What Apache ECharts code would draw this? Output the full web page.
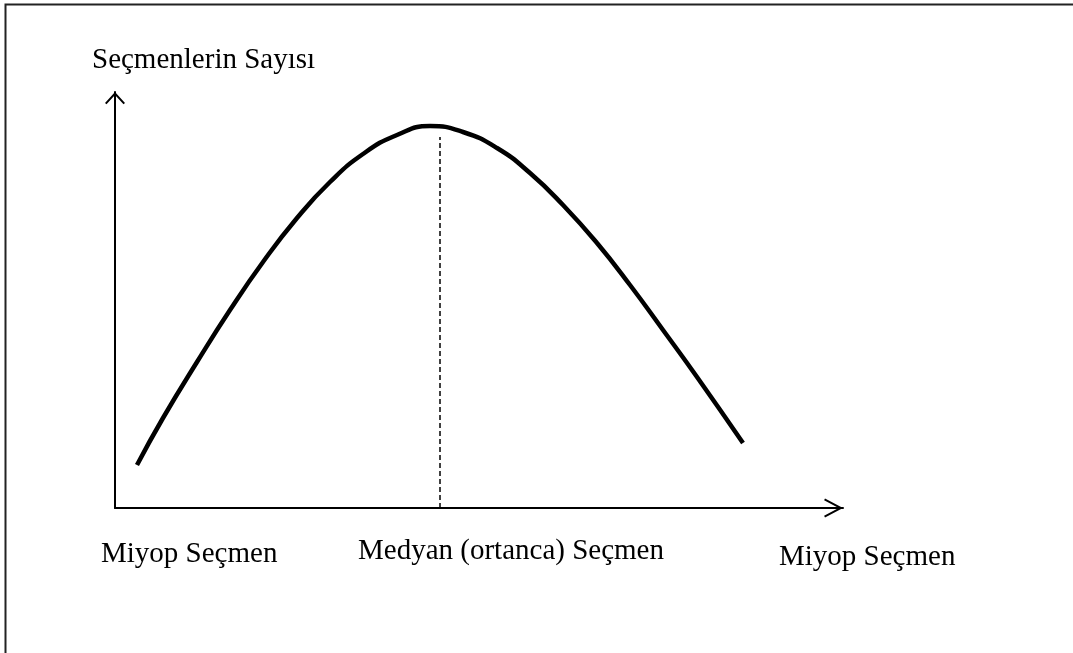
<!DOCTYPE html>
<html style="height: 100%; width: 100%">
  <head>
    <meta charset="utf-8" />
  </head>
  <body style="height: 100%; width: 100%; margin: 0">
    <div id="chart-panel" style="height: 100%; width: 100%"></div>
    <script
      type="text/javascript"
      src="https://cdn.jsdelivr.net/npm/echarts@6/dist/echarts.min.js"
    ></script>
    <script type="text/javascript">
      var dom = document.getElementById("chart-panel");
      var myChart = echarts.init(dom);

      // curve: [position on voter axis, number of voters]
      var curvePoints = [
        [22, 43], [48, 90], [82, 146], [115, 198], [148, 246],
        [182, 290], [215, 326], [248, 354], [282, 373], [315, 382],
        [348, 376], [382, 360], [415, 335], [448, 303], [482, 265],
        [515, 223], [548, 178], [582, 131], [628, 65]
      ];
      // median voter line
      var medianX = 325;
      var medianTop = 371;

      var axisTitle = "Seçmenlerin Sayısı";
      var bottomLabels = ["Miyop Seçmen", "Medyan (ortanca) Seçmen", "Miyop Seçmen"];

      var font = "29px 'Liberation Serif', 'Times New Roman', serif";

      // open arrow heads (thin chevrons, tip on top)
      var arrowX = "path://M9.5,0 L19,18 L17.2,18.9 L9.5,4.3 L1.8,18.9 L0,18 Z";
      var arrowY = "path://M10,0 L20,11 L18.5,12.3 L10,3 L1.5,12.3 L0,11 Z";

      var option = {
        animation: false,
        backgroundColor: "#fff",
        grid: {
          left: 115,
          right: 230,
          top: 92,
          bottom: 145,
          outerBoundsMode: "none"
        },
        xAxis: {
          type: "value",
          min: 0,
          max: 728,
          axisLine: {
            show: true,
            symbol: ["none", arrowX],
            symbolSize: [19, 18.9],
            symbolOffset: [0, -9.45],
            lineStyle: { color: "#000", width: 2 }
          },
          axisTick: { show: false },
          axisLabel: { show: false },
          splitLine: { show: false }
        },
        yAxis: {
          type: "value",
          min: 0,
          max: 416,
          axisLine: {
            show: true,
            symbol: ["none", arrowY],
            symbolSize: [20, 12.3],
            symbolOffset: [0, -6.15],
            lineStyle: { color: "#000", width: 2 }
          },
          axisTick: { show: false },
          axisLabel: { show: false },
          splitLine: { show: false }
        },
        graphic: [
          {
            type: "polyline",
            shape: { points: [[5.5, 653], [5.5, 4.5], [1073, 4.5]] },
            style: { stroke: "#222", lineWidth: 2, fill: null }
          },
          {
            type: "text", left: 92, top: 46,
            style: { text: axisTitle, font: font, fill: "#000" }
          },
          {
            type: "text", left: 101, top: 540,
            style: { text: bottomLabels[0], font: font, fill: "#000" }
          },
          {
            type: "text", left: 358, top: 537,
            style: { text: bottomLabels[1], font: font, fill: "#000" }
          },
          {
            type: "text", left: 779, top: 543,
            style: { text: bottomLabels[2], font: font, fill: "#000" }
          }
        ],
        series: [
          {
            type: "line",
            data: curvePoints,
            smooth: 0.5,
            symbol: "none",
            lineStyle: { color: "#000", width: 4.5 }
          },
          {
            type: "line",
            data: [[medianX, 0], [medianX, medianTop]],
            symbol: "none",
            lineStyle: { color: "#000", width: 1.5, type: [5, 3] }
          }
        ]
      };
      myChart.setOption(option);
    </script>
  </body>
</html>
